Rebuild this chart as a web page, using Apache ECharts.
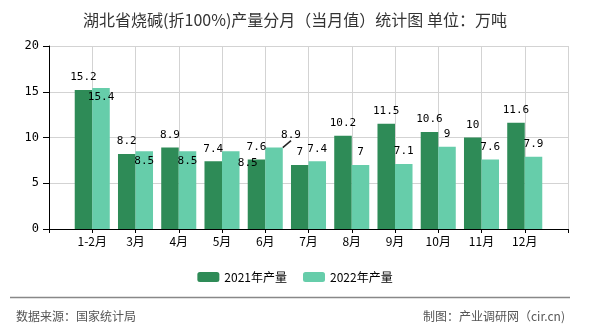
<!DOCTYPE html>
<html>
<head>
<meta charset="utf-8">
<script src="https://cdn.jsdelivr.net/npm/echarts@6/dist/echarts.min.js"></script>
<style>html,body{margin:0;padding:0;background:#fff;}#c{width:590px;height:330px;}</style>
</head>
<body>
<div id="c"></div>
<script>
var categories = ['1-2月','3月','4月','5月','6月','7月','8月','9月','10月','11月','12月'];
var values2021 = [15.2, 8.2, 8.9, 7.4, 7.6, 7, 10.2, 11.5, 10.6, 10, 11.6];
var values2022 = [15.4, 8.5, 8.5, 8.5, 8.9, 7.4, 7, 7.1, 9, 7.6, 7.9];
var seriesNames = ['2021年产量', '2022年产量'];
var yTicks = [0, 5, 10, 15, 20];

var axisCats = [''].concat(categories).concat(['']);
var numFont = 'DejaVu Sans Mono';
var cjk = 'Noto Sans CJK SC';

function data2021() {
  return [null].concat(values2021.map(function (v) { return { value: v }; })).concat([null]);
}
function data2022() {
  return [null].concat(values2022.map(function (v, i) {
    var item = { value: v };
    if (i <= 2) item.label = { position: 'insideTop', distance: 4 };
    if (i === 3 || i === 4) item.labelLine = { show: true, lineStyle: { color: '#222', width: 1.5 } };
    return item;
  })).concat([null]);
}

var chart = echarts.init(document.getElementById('c'), null, { renderer: 'canvas' });
chart.setOption({
  animation: false,
  backgroundColor: '#fff',
  title: [
    { text: '湖北省烧碱(折100%)产量分月（当月值）统计图 单位：万吨', left: 'center', top: 7,
      textStyle: { fontFamily: cjk, fontSize: 16, fontWeight: 'normal', color: '#333' } },
    { text: '数据来源：国家统计局', left: 11, top: 305,
      textStyle: { fontFamily: cjk, fontSize: 12, fontWeight: 'normal', color: '#555' } },
    { text: '制图：产业调研网（cir.cn)', right: 20, top: 305,
      textStyle: { fontFamily: cjk, fontSize: 12, fontWeight: 'normal', color: '#555' } }
  ],
  graphic: [
    { type: 'line', shape: { x1: 10, y1: 297.5, x2: 570, y2: 297.5 }, style: { stroke: '#888', lineWidth: 1.5 } }
  ],
  legend: {
    data: seriesNames, left: 'center', top: 266, itemWidth: 22, itemHeight: 10, itemGap: 16,
    textStyle: { fontFamily: cjk, fontSize: 12, color: '#000' }
  },
  grid: { left: 49, right: 22, top: 46, bottom: 101, containLabel: false },
  xAxis: {
    type: 'category', data: axisCats, boundaryGap: false,
    axisLine: { lineStyle: { color: '#000', width: 1 } },
    axisTick: { show: true, length: 4, lineStyle: { color: '#000' } },
    axisLabel: { color: '#000', fontFamily: cjk, fontSize: 12, margin: 6, interval: 0 },
    splitLine: { show: true, lineStyle: { color: '#d3d3d3' } }
  },
  yAxis: {
    type: 'value', min: yTicks[0], max: yTicks[yTicks.length - 1], interval: 5,
    axisLine: { show: true, lineStyle: { color: '#000' } },
    axisTick: { show: true, length: 6, lineStyle: { color: '#000' } },
    axisLabel: { color: '#000', fontFamily: numFont, fontSize: 12, margin: 10 },
    splitLine: { show: true, lineStyle: { color: '#d3d3d3' } }
  },
  series: [
    { name: seriesNames[0], type: 'bar', data: data2021(), barGap: '0%', barCategoryGap: '19%',
      itemStyle: { color: '#2E8B57' },
      label: { show: true, position: 'top', distance: 7, color: '#000', fontFamily: numFont, fontSize: 11 } },
    { name: seriesNames[1], type: 'bar', data: data2022(), barGap: '0%', barCategoryGap: '19%',
      itemStyle: { color: '#66CDAA' },
      label: { show: true, position: 'top', distance: 7, color: '#000', fontFamily: numFont, fontSize: 11 },
      labelLayout: function (p) {
        var i = p.dataIndex - 1;
        if (i === 3) return { dx: 17, dy: 24 };
        if (i === 4) return { dx: 17, dy: 0 };
        return {};
      } }
  ]
});
</script>
</body>
</html>
